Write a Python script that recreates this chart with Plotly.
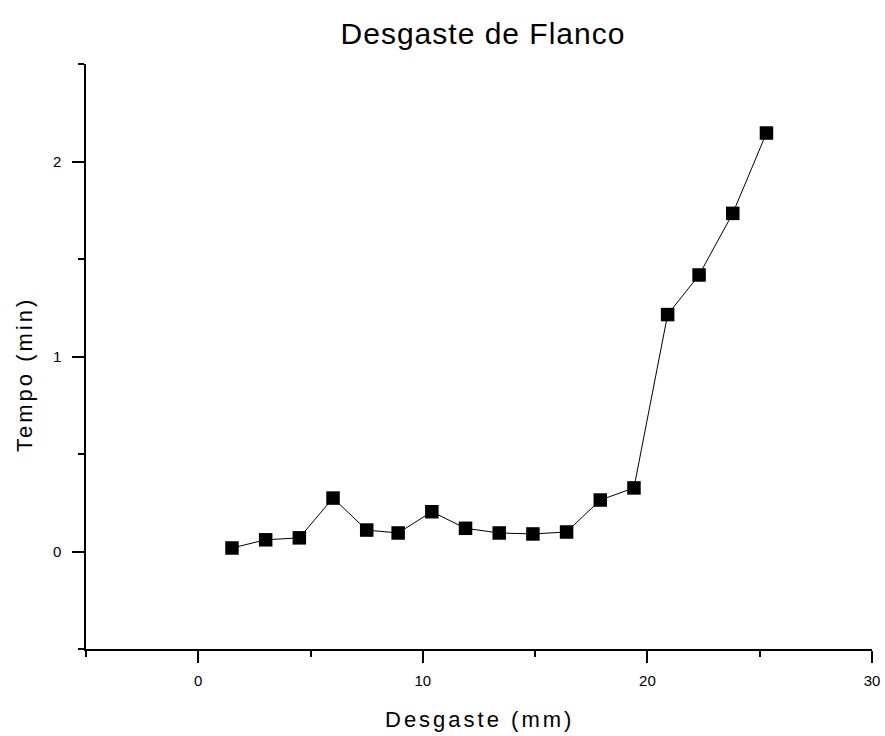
import plotly.graph_objects as go

desgaste_mm = [1.5, 3.0, 4.5, 6.0, 7.5, 8.9, 10.4, 11.9, 13.4, 14.9, 16.4, 17.9, 19.4, 20.9, 22.3, 23.8, 25.3]
tempo_min = [0.018, 0.06, 0.07, 0.274, 0.11, 0.095, 0.204, 0.119, 0.095, 0.09, 0.10, 0.264, 0.326, 1.215, 1.418, 1.734, 2.146]

x_ticks = [0, 10, 20, 30]
y_ticks = [0, 1, 2]

fig = go.Figure()
fig.add_trace(go.Scatter(
    x=desgaste_mm, y=tempo_min, mode="lines+markers",
    line=dict(color="black", width=1),
    marker=dict(symbol="square", size=13.5, color="black"),
    showlegend=False,
))

font_family = "Liberation Sans, Arial, sans-serif"
W, H = 885, 736
L, R, T, B = 86, 13, 64, 87
fig.update_layout(
    width=W, height=H,
    margin=dict(l=L, r=R, t=T, b=B, pad=0),
    paper_bgcolor="white", plot_bgcolor="white",
    font=dict(family=font_family, color="black"),
    title=dict(text='<span style="letter-spacing:1px">Desgaste de Flanco</span>',
               x=483 / W, xanchor="center", y=1 - 33 / H, yanchor="middle",
               font=dict(size=30, color="black")),
    xaxis=dict(
        range=[-5, 30], tickvals=x_ticks, ticks="outside", ticklen=12, tickwidth=1.5,
        tickcolor="black", showline=True, linecolor="black", linewidth=1.5,
        showgrid=False, zeroline=False, tickfont=dict(size=15), automargin=False,
        ticklabelstandoff=5,
        minor=dict(tickvals=[-5, 5, 15, 25], ticks="outside", ticklen=6, tickwidth=1.5, tickcolor="black"),
    ),
    yaxis=dict(
        range=[-0.5, 2.5], tickvals=y_ticks, ticks="outside", ticklen=12, tickwidth=1.5,
        tickcolor="black", showline=True, linecolor="black", linewidth=1.5,
        showgrid=False, zeroline=False, tickfont=dict(size=15), automargin=False,
        ticklabelstandoff=8,
        minor=dict(tickvals=[-0.5, 0.5, 1.5, 2.5], ticks="outside", ticklen=6, tickwidth=1.5, tickcolor="black"),
    ),
    annotations=[
        dict(text='<span style="letter-spacing:3px">Desgaste (mm)</span>', xref="paper", yref="paper",
             x=0.5, y=0, xanchor="center", yanchor="middle", yshift=-70, showarrow=False,
             font=dict(size=22, color="black")),
        dict(text='<span style="letter-spacing:3px">Tempo (min)</span>', xref="paper", yref="paper",
             x=0, y=(649 - 375) / 585, xanchor="center", yanchor="middle", xshift=-62, textangle=-90,
             showarrow=False, font=dict(size=22, color="black")),
    ],
)

fig.write_html("out.html", config={"displayModeBar": False},
               post_script="document.body.style.margin='0';document.body.style.overflow='hidden';")
